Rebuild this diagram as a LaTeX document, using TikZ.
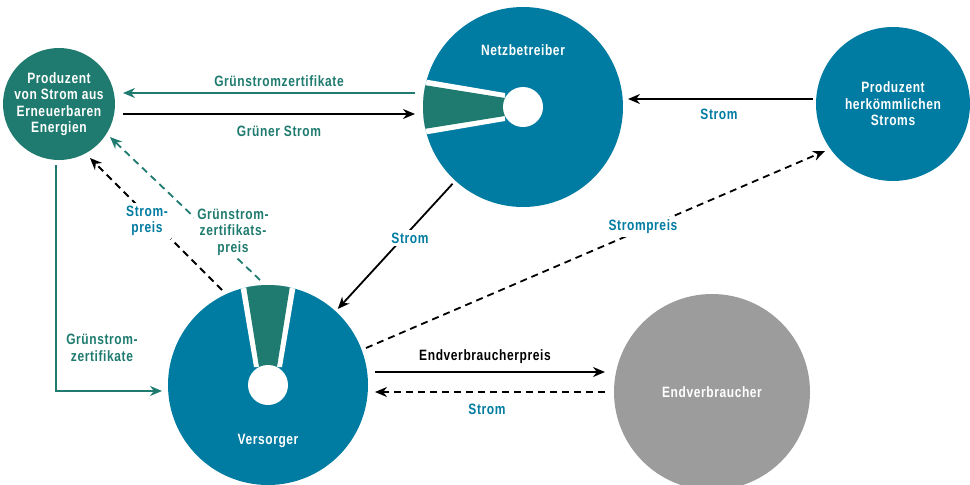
\documentclass[tikz,border=0pt]{standalone}
\usepackage{fontspec}
\setmainfont{Liberation Sans}[FakeStretch=0.8,LetterSpace=4.0]
\usetikzlibrary{arrows.meta}
\definecolor{cblue}{HTML}{007BA1}
\definecolor{cgreen}{HTML}{1F7B6F}
\definecolor{cgray}{HTML}{9C9C9C}
\begin{document}
\begin{tikzpicture}[x=1pt,y=-1pt,
  font=\bfseries\fontsize{15}{16.5}\selectfont,
  circ/.style={circle,inner sep=0pt,draw=none,align=center},
  conn/.style={line width=1.8pt,-{Stealth[length=12pt,width=10pt]}},
  dsh/.style={dash pattern=on 7pt off 5pt},
  lbl/.style={inner sep=3pt,align=center},
  wlbl/.style={lbl,fill=white}]
\useasboundingbox (0,0) rectangle (970,485);
% circles
\node[circ,fill=cgreen,minimum size=112pt,text=white] (erz) at (59,104) {Produzent\\von Strom aus\\Erneuerbaren\\Energien};
\node[circ,fill=cblue,minimum size=200pt] (netz) at (523,107) {};
\node[circ,fill=cblue,minimum size=154pt,text=white] (konv) at (893,104) {Produzent\\herkömmlichen\\Stroms};
\node[circ,fill=cblue,minimum size=200pt] (vers) at (268,385) {};
\node[circ,fill=cgray,minimum size=196pt,text=white] (endv) at (712,392) {Endverbraucher};
% wedges
\begin{scope}
\clip (523,107) circle (100);
\fill[white] (505,93)--(405,76)--(405,138)--(505,121)--cycle;
\fill[cgreen] (505,98)--(405,82)--(405,132)--(505,116)--cycle;
\end{scope}
\begin{scope}
\clip (268,385) circle (100);
\fill[white] (254,367)--(237,267)--(299,267)--(282,367)--cycle;
\fill[cgreen] (259,367)--(243,267)--(293,267)--(277,367)--cycle;
\end{scope}
\fill[white] (523,107) circle (20);
\fill[white] (268,385) circle (20);
\node[text=white,inner sep=0pt] (netzt) at (523,50) {Netzbetreiber};
\node[text=white,inner sep=0pt] (verst) at (268,441) {Versorger};
% coordinates
\coordinate (a1) at (415,93);  \coordinate (a2) at (123,93);
\coordinate (b1) at (123,114); \coordinate (b2) at (415,114);
\coordinate (c1) at (813,99);  \coordinate (c2) at (628,99);
\coordinate (e1) at (366,348); \coordinate (e2) at (825,151);
\coordinate (f1) at (375,372); \coordinate (f2) at (605,372);
\coordinate (g1) at (605,392); \coordinate (g2) at (375,392);
\coordinate (h1) at (56,165);  \coordinate (h2) at (162,391);
\coordinate (i1) at (222,290); \coordinate (i2) at (90,158);
\coordinate (j1) at (260,280); \coordinate (j2) at (110,137);
% connectors
\draw[conn,cgreen] (a1) -- (a2);
\node[lbl,text=cgreen] (la) at (279,81) {Grünstromzertifikate};
\draw[conn,black] (b1) -- (b2);
\node[lbl,text=cgreen] (lb) at (279,131) {Grüner Strom};
\draw[conn,black] (c1) -- (c2);
\node[lbl,text=cblue] (lc) at (719,114) {Strom};
\draw[conn,black,shorten <=4pt,shorten >=3pt] (netz) -- (vers);
\node[wlbl,text=cblue] (ld) at (410,238) {Strom};
\draw[conn,black,dsh] (e1) -- (e2);
\node[wlbl,text=cblue] (le) at (643,227) {Strompreis};
\draw[conn,black] (f1) -- (f2);
\node[lbl,text=black] (lf) at (485,357) {Endverbraucherpreis};
\draw[conn,black,dsh] (g1) -- (g2);
\node[lbl,text=cblue] (lg) at (487,409) {Strom};
\draw[conn,cgreen] (h1) |- (h2);
\node[lbl,text=cgreen] (lh) at (102,348) {Grünstrom-\\zertifikate};
\draw[conn,black,dsh] (i1) -- (i2);
\node[wlbl,text=cblue] (li) at (147,221) {Strom-\\preis};
\draw[conn,cgreen,dsh] (j1) -- (j2);
\node[wlbl,text=cgreen] (lj) at (233,232) {Grünstrom-\\zertifikats-\\preis};
\end{tikzpicture}
\end{document}
